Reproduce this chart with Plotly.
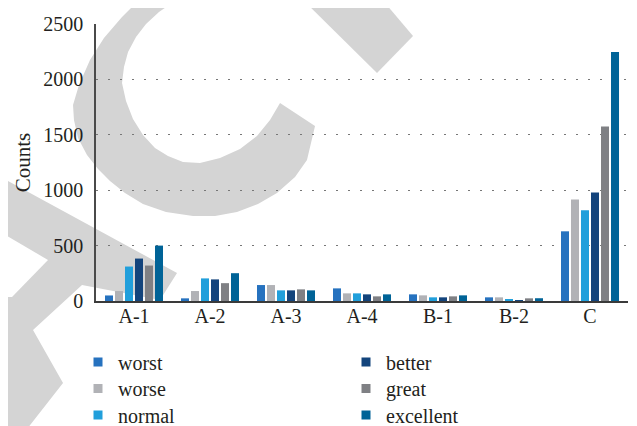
import plotly.graph_objects as go

categories = ["A-1", "A-2", "A-3", "A-4", "B-1", "B-2", "C"]
worst = [50, 24, 144, 114, 60, 33, 629]
worse = [90, 90, 144, 69, 51, 33, 917]
normal = [311, 204, 96, 69, 33, 15, 818]
better = [383, 195, 96, 60, 33, 6, 980]
great = [320, 161, 105, 42, 42, 24, 1574]
excellent = [500, 251, 96, 60, 51, 25, 2248]

series_names = ["worst", "worse", "normal", "better", "great", "excellent"]
series_values = [worst, worse, normal, better, great, excellent]
series_colors = ["#2672bf", "#b1b2b6", "#219fdb", "#13447c", "#7f8084", "#006397"]

# the page body adds an 8px offset, so the figure is sized to fit the window
OFF = 8
W, H = 637 - OFF, 426 - OFF
L, R, T, B = 96 - OFF, 9, 24 - OFF, 125
PW = W - L - R
PH = H - T - B
FONT = "Liberation Serif, Times New Roman, serif"
TXT = "#231f20"


def px_path(points):
    parts = []
    for i, (x, y) in enumerate(points):
        xp = (x - OFF - L) / PW
        yp = (H - B - (y - OFF)) / PH
        parts.append(("M" if i == 0 else "L") + f"{xp:.4f},{yp:.4f}")
    return " ".join(parts) + " Z"


def px_x(x):
    return (x - OFF - L) / PW


def px_y(y):
    return (H - B - (y - OFF)) / PH


wm = "#d4d4d4"
c_outer = [(142, -3), (122, 17), (104, 38), (90, 60), (79, 85), (73, 105), (74, 120),
           (78, 138), (87, 155), (98, 169), (110, 181), (125, 193), (143, 204),
           (166, 212), (193, 216), (215, 216), (237, 212), (258, 204), (277, 193),
           (295, 177), (307, 160), (315, 126)]
c_inner = [(280, 103), (270, 120), (257, 136), (240, 149), (220, 158), (200, 163),
           (183, 162), (168, 156), (155, 148), (143, 135), (133, 119), (126, 101),
           (122, 83), (124, 67), (128, 52), (136, 37), (146, 24), (159, 12), (172, 3),
           (185, -3)]
band = [(300, -3), (380, -3), (413, 36), (377, 73)]
a_outer = [(-3, 175), (177, 273), (160, 300), (82, 285), (33, 330), (63, 383),
           (27, 429), (-3, 429)]
a_counter = [(-3, 230), (48, 260), (12, 297), (-3, 297)]

shapes = [
    dict(type="path", path=px_path(c_outer + c_inner), xref="paper", yref="paper",
         fillcolor=wm, line=dict(width=0), layer="below"),
    dict(type="path", path=px_path(band), xref="paper", yref="paper",
         fillcolor=wm, line=dict(width=0), layer="below"),
    dict(type="path", path=px_path(a_outer), xref="paper", yref="paper",
         fillcolor=wm, line=dict(width=0), layer="below"),
    dict(type="path", path=px_path(a_counter), xref="paper", yref="paper",
         fillcolor="white", line=dict(width=0), layer="below"),
]

fig = go.Figure()
for name, vals, color in zip(series_names, series_values, series_colors):
    fig.add_trace(go.Bar(x=categories, y=vals, name=name, marker_color=color,
                         marker_line_width=0, showlegend=False))

# one small legend per entry, laid out in two columns of three rows
legend_cols = [78, 78, 78, 346, 346, 346]
legend_rows = [362, 388.5, 415, 362, 388.5, 415]
legend_layout = {}
for i, (name, color) in enumerate(zip(series_names, series_colors)):
    key = "legend" if i == 0 else f"legend{i + 1}"
    fig.add_trace(go.Scatter(x=[None], y=[None], mode="markers", name=name,
                             marker=dict(symbol="square", size=9, color=color),
                             legend=key, showlegend=True))
    legend_layout[key] = dict(
        x=px_x(legend_cols[i]), y=px_y(legend_rows[i]),
        xanchor="left", yanchor="middle", orientation="v",
        font=dict(family=FONT, size=20, color=TXT),
        bgcolor="rgba(0,0,0,0)", itemwidth=30,
    )

fig.update_layout(
    width=W, height=H,
    margin=dict(l=L, r=R, t=T, b=B, autoexpand=False),
    paper_bgcolor="white",
    plot_bgcolor="rgba(0,0,0,0)",
    font=dict(family=FONT, size=20, color=TXT),
    barmode="group",
    bargap=0.21,
    bargroupgap=0.2,
    shapes=shapes,
    xaxis=dict(
        type="category",
        range=[-0.5, 6.5],
        showline=True, linecolor="#3a3a3a", linewidth=2,
        showgrid=False,
        ticks="",
        ticklabelstandoff=-4,
        tickfont=dict(family=FONT, size=20, color=TXT),
    ),
    yaxis=dict(
        range=[0, 2500],
        tickvals=[0, 500, 1000, 1500, 2000, 2500],
        showline=True, linecolor="#4a4a4a", linewidth=1.5,
        showgrid=True, gridcolor="#777777", gridwidth=1.2, griddash="1.5px,10.5px",
        zeroline=False,
        ticks="outside", ticklen=7, tickcolor="rgba(0,0,0,0)",
        tickfont=dict(family=FONT, size=20, color=TXT),
        title=dict(text="Counts", font=dict(family=FONT, size=21, color=TXT),
                   standoff=7),
    ),
    **legend_layout,
)

fig.write_html("out.html")
